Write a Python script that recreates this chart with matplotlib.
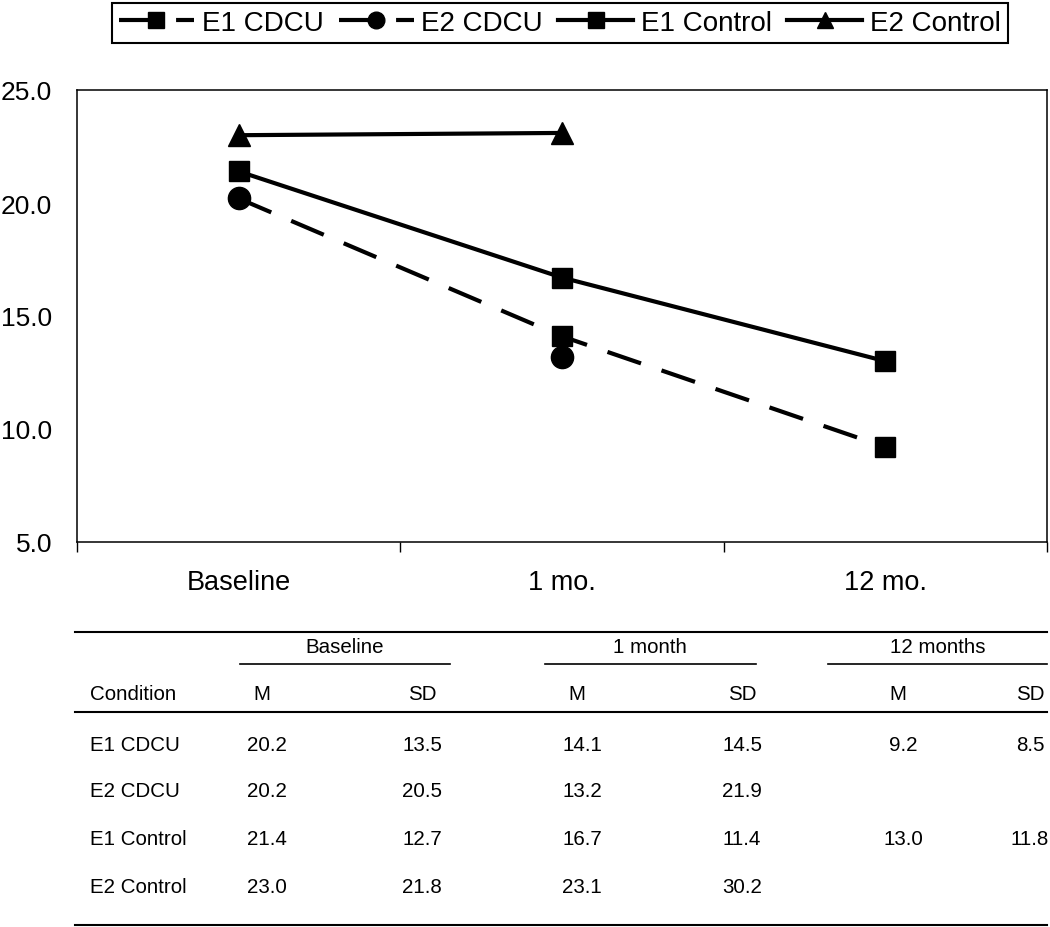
import matplotlib
matplotlib.use("Agg")
import matplotlib.pyplot as plt
from matplotlib.lines import Line2D

plt.rcParams['font.family'] = ['Liberation Sans', 'DejaVu Sans']

# datos del grafico
periodos = ['Baseline', '1 mo.', '12 mo.']
e1_cdcu = [20.2, 14.1, 9.2]
e2_cdcu = [20.2, 13.2]
e1_control = [21.4, 16.7, 13.0]
e2_control = [23.0, 23.1]

# datos de la tabla
grupos = ['Baseline', '1 month', '12 months']
condiciones = ['E1 CDCU', 'E2 CDCU', 'E1 Control', 'E2 Control']
medias = [['20.2', '14.1', '9.2'],
          ['20.2', '13.2', ''],
          ['21.4', '16.7', '13.0'],
          ['23.0', '23.1', '']]
desvios = [['13.5', '14.5', '8.5'],
           ['20.5', '21.9', ''],
           ['12.7', '11.4', '11.8'],
           ['21.8', '30.2', '']]

W, H = 1050, 928
fig = plt.figure(figsize=(W / 100, H / 100), dpi=100)

ax = fig.add_axes([77 / W, 1 - 543 / H, 970 / W, 452 / H])
lw = 3
guion = (0, (8.5, 5.2))
# en el original la linea de E2 CDCU queda tapada, solo se ven los circulos
ax.plot(range(len(e1_cdcu)), e1_cdcu, color='black', lw=lw, ls=guion,
        marker='s', ms=15, markevery=[1, 2], zorder=3)
ax.plot(range(len(e2_cdcu)), e2_cdcu, color='black', ls='none',
        marker='o', ms=16, zorder=4)
ax.plot(range(len(e1_control)), e1_control, color='black', lw=lw,
        marker='s', ms=15, zorder=3)
ax.plot(range(len(e2_control)), e2_control, color='black', lw=lw,
        marker='^', ms=16, zorder=3)

ax.set_xlim(-0.5, len(periodos) - 0.5)
ax.set_ylim(5, 25)
ax.set_yticks([5, 10, 15, 20, 25])
ax.set_yticklabels([f'{v:.1f}' for v in [5, 10, 15, 20, 25]], fontsize=19)
ax.tick_params(axis='y', length=0, pad=18)
ax.set_xticks([i - 0.5 for i in range(len(periodos) + 1)])
ax.set_xticklabels([])
ax.tick_params(axis='x', which='major', length=7, width=1, direction='out')
ax.set_xticks(range(len(periodos)), minor=True)
ax.set_xticklabels(periodos, minor=True, fontsize=19.5)
ax.tick_params(axis='x', which='minor', length=0, pad=19.5)
for s in ax.spines.values():
    s.set_linewidth(1.1)

# leyenda
estilos = [(guion, 's', 11), (guion, 'o', 12), ('-', 's', 11), ('-', '^', 12)]
handles = [Line2D([], [], color='black', lw=lw, ls=ls, marker=mk, ms=m)
           for ls, mk, m in estilos]
leg = fig.legend(handles, condiciones, loc='upper center',
                 bbox_to_anchor=(560 / W, 0.999), ncol=4,
                 fontsize=20, frameon=True, fancybox=False, edgecolor='black',
                 handlelength=2.7, handletextpad=0.28, columnspacing=0.55,
                 borderpad=0.25, borderaxespad=0.1, framealpha=1)
leg.get_frame().set_linewidth(1.5)

# tabla en coordenadas de pixel
tb = fig.add_axes([0, 0, 1, 1], zorder=-1)
tb.set_xlim(0, W)
tb.set_ylim(H, 0)
tb.axis('off')

def linea(x0, x1, y, w=1.5):
    tb.add_line(Line2D([x0, x1], [y, y], color='black', lw=w))

linea(75, 1047, 633)
linea(75, 1047, 713)
linea(75, 1047, 926)
centros_grupo = [345, 650, 938]
rangos_grupo = [(240, 450), (545, 756), (828, 1047)]
col_m = [262, 577, 898]
col_sd = [422, 742, 1030]
fs = 14.8
for g, cx, (a, b) in zip(grupos, centros_grupo, rangos_grupo):
    tb.text(cx, 648, g, ha='center', va='center', fontsize=fs)
    linea(a, b, 665, 1.2)
tb.text(90, 695, 'Condition', ha='left', va='center', fontsize=fs)
for xm, xs in zip(col_m, col_sd):
    tb.text(xm, 695, 'M', ha='center', va='center', fontsize=fs)
    tb.text(xs, 695, 'SD', ha='center', va='center', fontsize=fs)

filas_y = [746, 792, 840, 888]
for cond, ms_row, sd_row, y in zip(condiciones, medias, desvios, filas_y):
    tb.text(90, y, cond, ha='left', va='center', fontsize=fs)
    for j in range(len(grupos)):
        tb.text(col_m[j] + 5, y, ms_row[j], ha='center', va='center', fontsize=fs)
        tb.text(col_sd[j], y, sd_row[j], ha='center', va='center', fontsize=fs)

fig.savefig('out.png', dpi=100)
